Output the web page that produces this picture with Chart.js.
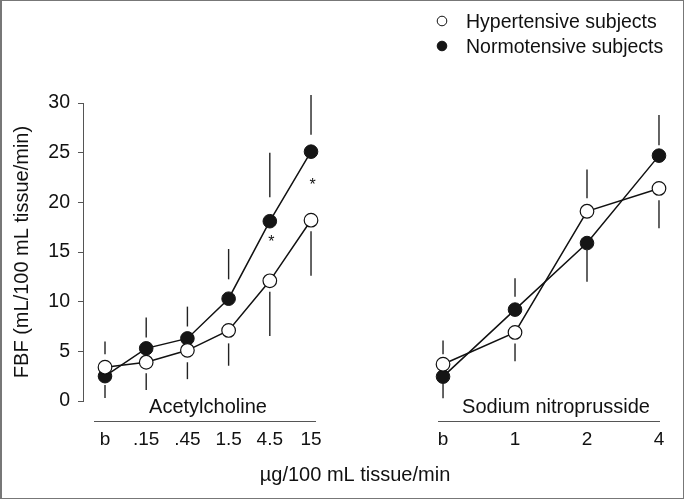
<!DOCTYPE html>
<html lang="en">
<head>
<meta charset="UTF-8" />
<title>Forearm blood flow</title>
<script src="https://cdn.jsdelivr.net/npm/chart.js"></script>
<style>
  body { margin: 0; background: #fff; }
  canvas { position: absolute; left: 0; top: 0; }
  .frame { position: absolute; left: 0; top: 0; width: 684px; height: 499px; box-sizing: border-box;
           border: 1px solid #777; border-left-width: 2px; pointer-events: none; }
</style>
</head>
<body>
<canvas id="ach" width="684" height="499"></canvas>
<canvas id="snp" width="684" height="499"></canvas>
<div class="frame"></div>

<script>
// categories (dose steps)
const achCats = ['b', '.15', '.45', '1.5', '4.5', '15'];
const snpCats = ['b', '1', '2', '4'];

// mean FBF, mL/100 mL tissue/min
const hyperAch = [3.4, 3.9, 5.1, 7.1, 12.1, 18.2];
const normoAch = [2.5, 5.3, 6.3, 10.3, 18.1, 25.1];
const hyperSnp = [3.7, 6.9, 19.1, 21.4];
const normoSnp = [2.45, 9.2, 15.9, 24.7];

// error bar segments as drawn: [near end, far end]
const hyperAchErr = [[4.7, 6.0], [2.8, 1.1], [3.9, 2.2], [5.8, 3.55], [11.0, 6.55], [17.1, 12.6]];
const normoAchErr = [[1.6, 0.3], [6.4, 8.4], [7.5, 9.5], [12.25, 15.3], [20.5, 25.0], [26.8, 30.8]];
const hyperSnpErr = [[4.7, 6.1], [5.8, 4.0], [20.4, 23.3], [20.2, 17.4]];
const normoSnpErr = [[1.75, 0.27], [10.5, 12.35], [15.2, 12.0], [25.75, 28.8]];

// significance marks (y position of the asterisk, null = none)
const sigAch = [null, null, null, null, 16.5, 22.2];
const sigSnp = [null, null, null, null];

const yTicks = [0, 5, 10, 15, 20, 25, 30];

const FONT = '"Liberation Sans", Arial, Helvetica, sans-serif';
Chart.defaults.font.family = FONT;
Chart.defaults.color = '#111';

const pts = arr => arr.map((v, i) => ({ x: i, y: v }));

const openStyle = {
  borderColor: '#111', borderWidth: 1.5, pointRadius: 6.8, pointBorderWidth: 1.2,
  pointBackgroundColor: '#fff', pointBorderColor: '#111', tension: 0, clip: false
};
const filledStyle = {
  borderColor: '#111', borderWidth: 1.5, pointRadius: 6.8, pointBorderWidth: 1,
  pointBackgroundColor: '#151515', pointBorderColor: '#151515', tension: 0, clip: false
};

// error bars, panel name + baseline rule, asterisks, legend, shared x title
const panelPlugin = {
  id: 'panel',
  beforeDatasetsDraw(chart, args, opts) {
    const { ctx, scales: { x, y } } = chart;
    ctx.save();
    ctx.strokeStyle = '#222';
    ctx.lineWidth = 1.4;
    chart.data.datasets.forEach(ds => {
      ds.err.forEach(([near, far], i) => {
        const px = x.getPixelForValue(i);
        ctx.beginPath();
        ctx.moveTo(px, y.getPixelForValue(near));
        ctx.lineTo(px, y.getPixelForValue(far));
        ctx.stroke();
      });
    });
    ctx.restore();
  },
  afterDraw(chart, args, opts) {
    const { ctx, scales: { x, y } } = chart;
    const first = x.getPixelForValue(0);
    const last = x.getPixelForValue(opts.cats.length - 1);
    ctx.save();
    // rule under the panel
    ctx.strokeStyle = '#555';
    ctx.lineWidth = 1;
    ctx.beginPath();
    ctx.moveTo(first - opts.padL, 421.5);
    ctx.lineTo(last + opts.padR, 421.5);
    ctx.stroke();
    // panel name
    ctx.fillStyle = '#111';
    ctx.font = '20px ' + FONT;
    ctx.textAlign = 'center';
    ctx.textBaseline = 'alphabetic';
    ctx.fillText(opts.name, (first + last) / 2 + opts.nameShift, 413);
    // asterisks
    ctx.font = '16px ' + FONT;
    ctx.textBaseline = 'middle';
    opts.sig.forEach((v, i) => {
      if (v === null) return;
      ctx.fillText('*', x.getPixelForValue(i) + 1.5, y.getPixelForValue(v) + 5);
    });
    if (opts.legend) {
      ctx.textAlign = 'left';
      ctx.textBaseline = 'alphabetic';
      ctx.font = '19.5px ' + FONT;
      chart.data.datasets.forEach((ds, d) => {
        const cy = 21 + d * 25;
        ctx.beginPath();
        ctx.arc(442, cy, 4.8, 0, Math.PI * 2);
        ctx.fillStyle = ds.pointBackgroundColor;
        ctx.fill();
        ctx.strokeStyle = '#111';
        ctx.lineWidth = 1;
        ctx.stroke();
        ctx.fillStyle = '#111';
        ctx.fillText(ds.label, 466, cy + 6.8);
      });
    }
    if (opts.xTitle) {
      ctx.textAlign = 'center';
      ctx.font = '20px ' + FONT;
      ctx.fillText(opts.xTitle, 355, 481);
    }
    ctx.restore();
  }
};

function catAxis(cats, min, max) {
  return {
    type: 'linear', min: min, max: max,
    grid: { display: false }, border: { display: false },
    afterBuildTicks: s => { s.ticks = cats.map((c, i) => ({ value: i })); },
    ticks: { autoSkip: false, maxRotation: 0, padding: 19, font: { size: 19 }, callback: v => cats[v] },
    afterFit: s => { s.height = 98; }
  };
}

new Chart(document.getElementById('ach'), {
  type: 'line',
  data: {
    datasets: [
      Object.assign({ label: 'Hypertensive subjects', data: pts(hyperAch), err: hyperAchErr }, openStyle),
      Object.assign({ label: 'Normotensive subjects', data: pts(normoAch), err: normoAchErr }, filledStyle)
    ]
  },
  options: {
    responsive: false, animation: false,
    layout: { padding: { left: 0, top: 103, right: 364, bottom: 0 } },
    plugins: {
      legend: { display: false }, tooltip: { enabled: false },
      panel: { name: 'Acetylcholine', cats: achCats, padL: 11, padR: 5, nameShift: 0, sig: sigAch }
    },
    scales: {
      x: catAxis(achCats, -0.534, 5.218),
      y: {
        min: 0, max: 30,
        afterBuildTicks: s => { s.ticks = yTicks.map(v => ({ value: v })); },
        ticks: { padding: 8, font: { size: 19.5 } },
        grid: { drawOnChartArea: false, tickLength: 5, color: '#555' },
        border: { color: '#555' },
        title: { display: true, text: 'FBF (mL/100 mL tissue/min)', font: { size: 20 }, padding: { top: 10, bottom: 0 } },
        afterFit: s => { s.width = 83; }
      }
    }
  },
  plugins: [panelPlugin]
});

new Chart(document.getElementById('snp'), {
  type: 'line',
  data: {
    datasets: [
      Object.assign({ label: 'Hypertensive subjects', data: pts(hyperSnp), err: hyperSnpErr }, openStyle),
      Object.assign({ label: 'Normotensive subjects', data: pts(normoSnp), err: normoSnpErr }, filledStyle)
    ]
  },
  options: {
    responsive: false, animation: false,
    layout: { padding: { left: 430, top: 103, right: 14, bottom: 0 } },
    plugins: {
      legend: { display: false }, tooltip: { enabled: false },
      panel: { name: 'Sodium nitroprusside', cats: snpCats, padL: 5, padR: 1, nameShift: 5, sig: sigSnp,
               legend: true, xTitle: 'µg/100 mL tissue/min' }
    },
    scales: {
      x: catAxis(snpCats, -0.181, 3.153),
      y: { display: false, min: 0, max: 30 }
    }
  },
  plugins: [panelPlugin]
});
</script>
</body>
</html>
